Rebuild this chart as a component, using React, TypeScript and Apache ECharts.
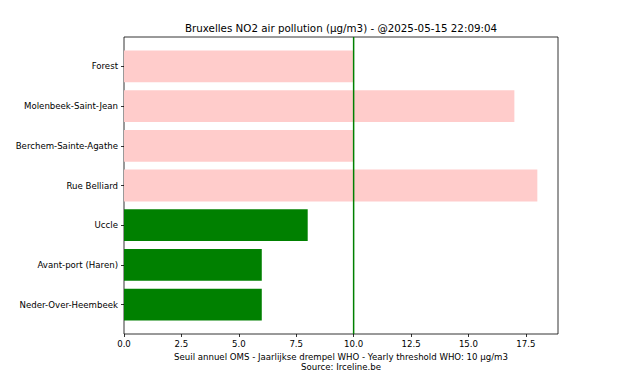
import React, { useEffect, useRef } from "react";
import * as echarts from "echarts";

const categories = [
  "Forest",
  "Molenbeek-Saint-Jean",
  "Berchem-Sainte-Agathe",
  "Rue Belliard",
  "Uccle",
  "Avant-port (Haren)",
  "Neder-Over-Heembeek",
];
const values = [10, 17, 10, 18, 8, 6, 6];
const threshold = 10;
const xTicks = [0, 2.5, 5, 7.5, 10, 12.5, 15, 17.5];
const titleText = "Bruxelles NO2 air pollution (µg/m3) - @2025-05-15 22:09:04";
const xLabelLines = [
  "Seuil annuel OMS - Jaarlijkse drempel WHO - Yearly threshold WHO: 10 µg/m3",
  "Source: Irceline.be",
];

const FONT = "DejaVu Sans";

export default function App() {
  const ref = useRef<HTMLDivElement>(null);
  useEffect(() => {
    if (!ref.current) return;
    document.body.style.margin = "0";
    const chart = echarts.init(ref.current, null, { renderer: "svg" });
    const W = 620;
    const H = 372;
    const plotL = 124;
    const plotR = 558;
    const plotT = 37;
    const plotB = 334;
    const n = categories.length;
    const xMax = Math.max(...values) * 1.05;
    const yLo = -0.4 - 0.05 * (n - 1 + 0.8);
    const span = n - 1 + 0.8 + 2 * 0.05 * (n - 1 + 0.8);
    const unit = (plotB - plotT) / span;
    const inset = (-0.5 - yLo) * unit;

    chart.setOption({
      animation: false,
      backgroundColor: "#fff",
      textStyle: { fontFamily: FONT },
      grid: [
        {
          left: plotL,
          right: W - plotR,
          top: plotT,
          bottom: H - plotB,
          show: true,
          borderColor: "#000",
          borderWidth: 0.8,
          backgroundColor: "transparent",
        },
        {
          left: plotL,
          right: W - plotR,
          top: plotT + inset,
          bottom: H - plotB + inset,
        },
      ],
      xAxis: [
        {
          gridIndex: 0,
          type: "value",
          min: 0,
          max: xMax,
          axisLine: { show: false },
          splitLine: { show: false },
          axisTick: {
            show: true,
            length: 3,
            customValues: xTicks,
            lineStyle: { color: "#000", width: 0.8 },
          },
          axisLabel: {
            customValues: xTicks,
            formatter: (v: number) => v.toFixed(1),
            fontSize: 8.6,
            color: "#000",
            margin: 5,
            fontFamily: FONT,
          },
        },
        {
          gridIndex: 1,
          type: "value",
          min: 0,
          max: xMax,
          show: false,
        },
      ],
      yAxis: [
        { gridIndex: 0, type: "value", min: 0, max: 1, show: false },
        {
          gridIndex: 1,
          type: "category",
          data: categories,
          inverse: true,
          axisLine: { show: false },
          axisTick: {
            show: true,
            alignWithLabel: true,
            length: 3,
            lineStyle: { color: "#000", width: 0.8 },
          },
          axisLabel: {
            fontSize: 8.6,
            color: "#000",
            margin: 6,
            fontFamily: FONT,
          },
          splitLine: { show: false },
        },
      ],
      series: [
        {
          type: "bar",
          xAxisIndex: 1,
          yAxisIndex: 1,
          barWidth: 0.8 * unit,
          data: values.map((v) => ({
            value: v,
            itemStyle: { color: v >= threshold ? "#ffcccb" : "#008000" },
          })),
          z: 2,
        },
        {
          type: "line",
          xAxisIndex: 0,
          yAxisIndex: 0,
          data: [
            [threshold, 0],
            [threshold, 1],
          ],
          symbol: "none",
          lineStyle: { color: "#008000", width: 1.5 },
          z: 5,
        },
      ],
      graphic: [
        {
          type: "text",
          x: (plotL + plotR) / 2,
          y: 28,
          style: {
            text: titleText,
            align: "center",
            verticalAlign: "middle",
            fontSize: 10.3,
            fontFamily: FONT,
            fill: "#000",
          },
        },
        {
          type: "text",
          x: (plotL + plotR) / 2,
          y: 357,
          style: {
            text: xLabelLines[0],
            align: "center",
            verticalAlign: "middle",
            fontSize: 8.6,
            fontFamily: FONT,
            fill: "#000",
          },
        },
        {
          type: "text",
          x: (plotL + plotR) / 2,
          y: 367,
          style: {
            text: xLabelLines[1],
            align: "center",
            verticalAlign: "middle",
            fontSize: 8.6,
            fontFamily: FONT,
            fill: "#000",
          },
        },
      ],
    });
    return () => chart.dispose();
  }, []);
  return <div ref={ref} style={{ width: 620, height: 372 }} />;
}
